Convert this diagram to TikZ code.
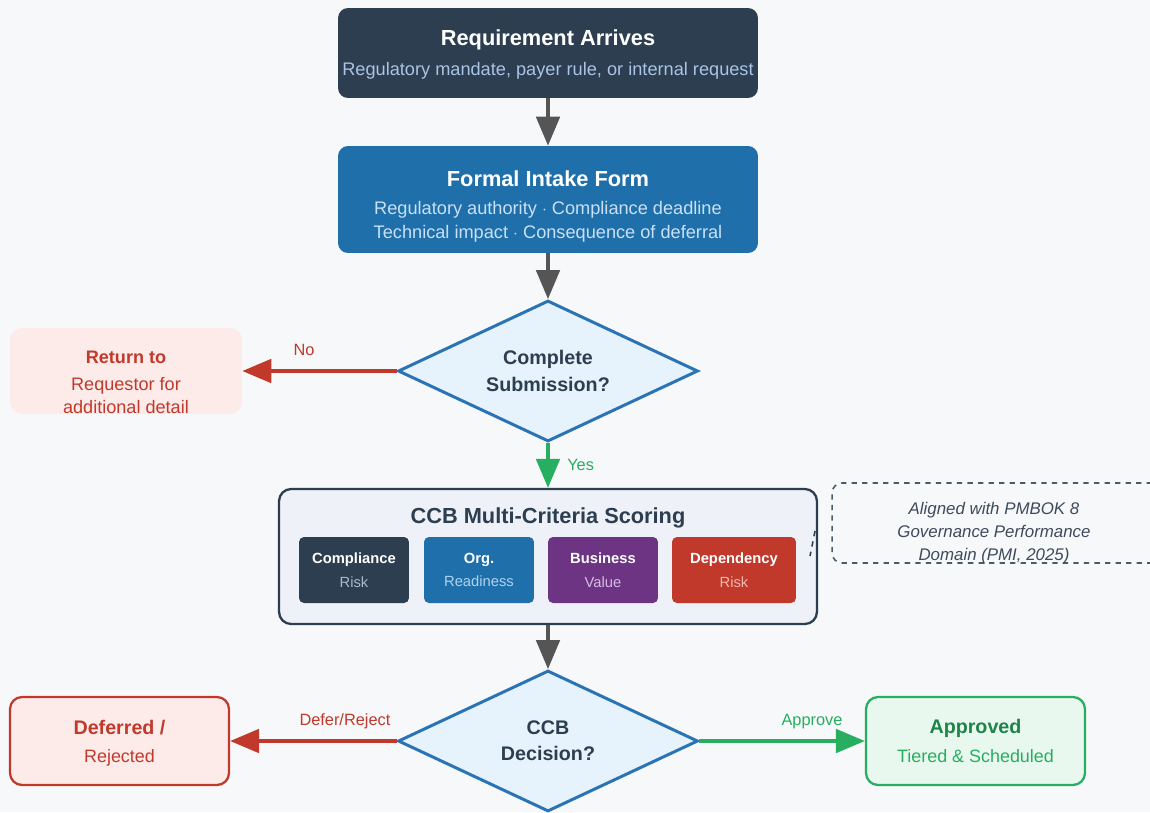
\documentclass[tikz,border=0pt]{standalone}
\usepackage{fontspec}
\setmainfont{Liberation Sans}
\usetikzlibrary{shapes.geometric, arrows.meta, positioning}

\definecolor{bgcol}{HTML}{F7F8FA}
\definecolor{navy}{HTML}{2C3E50}
\definecolor{navysub}{HTML}{A9C4E4}
\definecolor{intakeblue}{HTML}{1F6FAB}
\definecolor{intakesub}{HTML}{C9E0F5}
\definecolor{arrowgray}{HTML}{555555}
\definecolor{diafill}{HTML}{E6F2FC}
\definecolor{diadraw}{HTML}{2A73B5}
\definecolor{nored}{HTML}{C0392B}
\definecolor{pinkfill}{HTML}{FDEBEA}
\definecolor{yesgreen}{HTML}{27AE60}
\definecolor{greenfill}{HTML}{E8F8EE}
\definecolor{darkgreen}{HTML}{1E8449}
\definecolor{scorefill}{HTML}{EEF2F8}
\definecolor{bizpurple}{HTML}{6C3483}
\definecolor{notetext}{HTML}{3D4B5C}
\definecolor{compsub}{HTML}{A9B9CE}
\definecolor{orgsub}{HTML}{AED3F2}
\definecolor{bizsub}{HTML}{D7BDE2}
\definecolor{depsub}{HTML}{F5B7B1}

\newcommand{\ttl}[1]{{\fontsize{12.4}{14}\selectfont\bfseries #1}}
\newcommand{\sub}[1]{{\fontsize{10.35}{12}\selectfont #1}}
\newcommand{\sml}[1]{{\fontsize{8.4}{10}\selectfont #1}}

\tikzset{%
flowbox/.style={
    rectangle, rounded corners=0.2cm,
    align=center, inner sep=0pt,
    minimum width=8.4cm
},
decision/.style={
    diamond, draw=diadraw, fill=diafill, line width=1.7pt,
    aspect=2, inner sep=0pt, align=center,
    minimum width=6cm, minimum height=2.82cm,
    text=navy, font=\fontsize{11.2}{15}\selectfont\bfseries
},
endbox/.style={
    rectangle, rounded corners=0.24cm, line width=1.3pt,
    align=center, inner sep=0pt,
    minimum width=4.38cm, minimum height=1.76cm
},
critbox/.style={
    rectangle, rounded corners=0.1cm,
    align=center, inner sep=0pt, text=white,
    minimum width=2.2cm, minimum height=1.32cm
},
flow/.style={
    line width=2pt,
    -{Triangle[length=0.58cm,width=0.47cm]}
},
edgelbl/.style={font=\fontsize{9.3}{11}\selectfont, inner sep=2pt},
}

\begin{document}
\begin{tikzpicture}[x=0.02cm,y=-0.02cm]
\fill[bgcol] (0,0) rectangle (1150,812);
\useasboundingbox (0,0) rectangle (1150,812);

% main column
\node (req) [flowbox, fill=navy, minimum height=1.8cm] at (548,53)
    {\rule{0pt}{11pt}\textcolor{white}{\ttl{Requirement Arrives}}\\[5pt]
     \textcolor{navysub}{\sub{Regulatory mandate, payer rule, or internal request}}};

\node (intake) [flowbox, fill=intakeblue, minimum height=2.14cm] at (548,199.5)
    {\rule{0pt}{17pt}\textcolor{white}{\ttl{Formal Intake Form}}\\[4pt]
     \textcolor{intakesub}{\sub{Regulatory authority $\cdot$ Compliance deadline}}\\[2pt]
     \textcolor{intakesub}{\sub{Technical impact $\cdot$ Consequence of deferral}}};

\node (complete) [decision] at (548,371) {Complete\\Submission?};

\node (ret) [rectangle, rounded corners=0.24cm, fill=pinkfill, align=center,
    inner sep=0pt, minimum width=4.64cm, minimum height=1.72cm, text=nored] at (126,371)
    {\rule{0pt}{20pt}{\fontsize{10.3}{12}\selectfont\bfseries Return to}\\[3pt]
     {\fontsize{10.3}{12}\selectfont Requestor for}\\[1pt]
     {\fontsize{10.3}{12}\selectfont additional detail}};

% scoring panel
\node (score) [rectangle, rounded corners=0.24cm, draw=navy, line width=1.3pt,
    fill=scorefill, minimum width=10.76cm, minimum height=2.7cm] at (548,556.5) {};
\node (score-title) [text=navy, font=\fontsize{12.4}{14}\selectfont\bfseries] at (548,518)
    {CCB Multi-Criteria Scoring};
\node (comp) [critbox, fill=navy] at (354,570)
    {\sml{\bfseries Compliance}\\[1.5pt]\textcolor{compsub}{\sml{Risk}}};
\node (org) [critbox, fill=intakeblue] at (479,570)
    {\sml{\bfseries Org.}\\[1.5pt]\textcolor{orgsub}{\sml{Readiness}}};
\node (biz) [critbox, fill=bizpurple] at (603,570)
    {\sml{\bfseries Business}\\[1.5pt]\textcolor{bizsub}{\sml{Value}}};
\node (dep) [critbox, fill=nored, minimum width=2.48cm] at (734,570)
    {\sml{\bfseries Dependency}\\[1.5pt]\textcolor{depsub}{\sml{Risk}}};

% side note
\node (note) [rectangle, rounded corners=0.2cm, draw=navy!85, dashed, line width=0.9pt,
    minimum width=6.6cm, minimum height=1.6cm] at (997,523) {};
\node (note-text) [align=center, text=notetext, inner sep=0pt,
    font=\fontsize{9.6}{13}\selectfont\itshape] at (994,533)
    {Aligned with PMBOK 8\\Governance Performance\\Domain (PMI, 2025)};
\coordinate (stub-a) at (815,531);
\coordinate (stub-b) at (810,556);
\draw [navy, dashed, line width=0.9pt] (stub-a) -- (stub-b);

\node (decide) [decision] at (548,741) {CCB\\Decision?};

\node (deferred) [endbox, draw=nored, fill=pinkfill, text=nored] at (119.5,741)
    {\rule{0pt}{10.5pt}{\fontsize{11.2}{13}\selectfont\bfseries Deferred /}\\[4pt]
     {\fontsize{10.2}{12}\selectfont Rejected}};
\node (approved) [endbox, draw=yesgreen, fill=greenfill] at (975.5,741)
    {\textcolor{darkgreen}{\fontsize{11.2}{13}\selectfont\bfseries Approved}\\[4pt]
     \textcolor{yesgreen}{\fontsize{10.2}{12}\selectfont Tiered \& Scheduled}};

% connectors
\draw [flow, arrowgray] (req) -- (intake);
\draw [flow, arrowgray] (intake) -- (complete);
\draw [flow, nored] (complete) -- node[edgelbl, pos=0.6, above=6pt] {No} (ret);
\draw [flow, yesgreen] (complete) -- node[edgelbl, right=8pt] {Yes} (score);
\draw [flow, arrowgray] (score) -- (decide);
\draw [flow, nored] (decide) -- node[edgelbl, pos=0.31, above=4pt] {Defer/Reject} (deferred);
\draw [flow, yesgreen] (decide) -- node[edgelbl, pos=0.68, above=4pt] {Approve} (approved);
\end{tikzpicture}
\end{document}
